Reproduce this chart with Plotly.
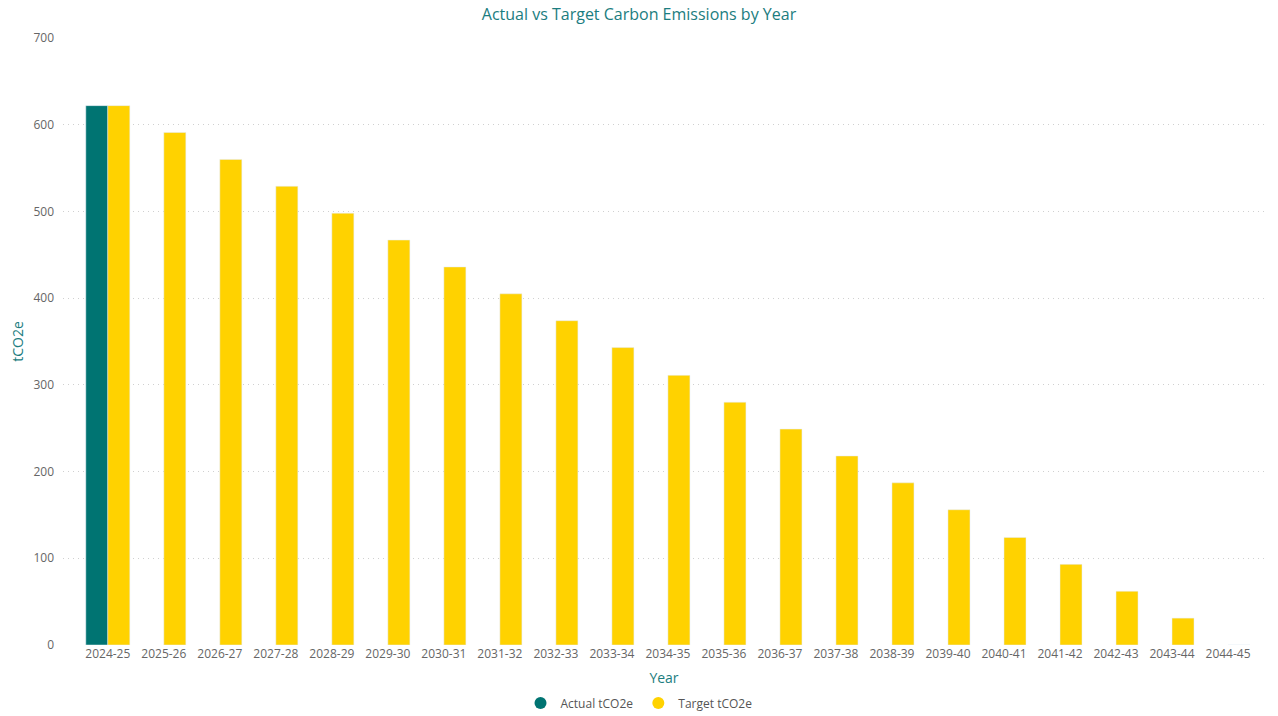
import plotly.graph_objects as go

years = ["2024-25", "2025-26", "2026-27", "2027-28", "2028-29", "2029-30", "2030-31",
         "2031-32", "2032-33", "2033-34", "2034-35", "2035-36", "2036-37", "2037-38",
         "2038-39", "2039-40", "2040-41", "2041-42", "2042-43", "2043-44", "2044-45"]
actual = [622, None, None, None, None, None, None, None, None, None, None,
          None, None, None, None, None, None, None, None, None, None]
target = [622, 591, 560, 529, 498, 467, 436, 405, 374, 343, 311,
          280, 249, 218, 187, 156, 124, 93, 62, 31, 0]

TEAL = "#007472"
YELLOW = "#FFD200"
TITLE_C = "#1B7D80"
FONT = "Open Sans"

fig = go.Figure()
fig.add_trace(go.Bar(x=years, y=actual, name="Actual tCO2e", marker_color=TEAL,
                     showlegend=False))
fig.add_trace(go.Bar(x=years, y=target, name="Target tCO2e", marker_color=YELLOW,
                     showlegend=False))
# legend entries with circle markers
fig.add_trace(go.Scatter(x=[None], y=[None], mode="markers", name="Actual tCO2e",
                         marker=dict(color=TEAL, size=10, symbol="circle")))
fig.add_trace(go.Scatter(x=[None], y=[None], mode="markers", name="Target tCO2e",
                         marker=dict(color=YELLOW, size=10, symbol="circle")))

fig.update_layout(
    width=1278, height=716,
    margin=dict(l=63, r=13, t=38, b=71, autoexpand=False),
    paper_bgcolor="white", plot_bgcolor="white",
    barmode="group", bargap=0.214, bargroupgap=0,
    font=dict(family=FONT, size=12, color="#666666"),
    title=dict(text="Actual vs Target Carbon Emissions by Year", x=0.5, xanchor="center",
               y=1 - 14 / 716, yanchor="middle",
               font=dict(family=FONT, size=16, color=TITLE_C)),
    legend=dict(orientation="h", xref="container", x=0.5, xanchor="center",
                yref="container", y=(716 - 703) / 716, yanchor="middle",
                font=dict(family=FONT, size=12, color="#555555"),
                itemwidth=30, tracegroupgap=0, itemsizing="constant"),
    showlegend=True,
)
fig.update_xaxes(
    type="category", range=[-0.8, 20.66],
    showgrid=False, zeroline=False, showline=False,
    tickfont=dict(family=FONT, size=12, color="#666666"),
    title=dict(text="Year", font=dict(family=FONT, size=14, color=TITLE_C), standoff=12),
    automargin=False,
)
fig.update_yaxes(
    range=[0, 700], dtick=100,
    showgrid=True, gridcolor="#d0d0d0", griddash="1px,4px", gridwidth=1,
    zeroline=False, showline=False,
    ticklabelstandoff=8,
    tickfont=dict(family=FONT, size=12, color="#666666"),
    title=dict(text="tCO2e", font=dict(family=FONT, size=14, color=TITLE_C), standoff=6),
    automargin=False,
)

fig.write_html("out.html")
